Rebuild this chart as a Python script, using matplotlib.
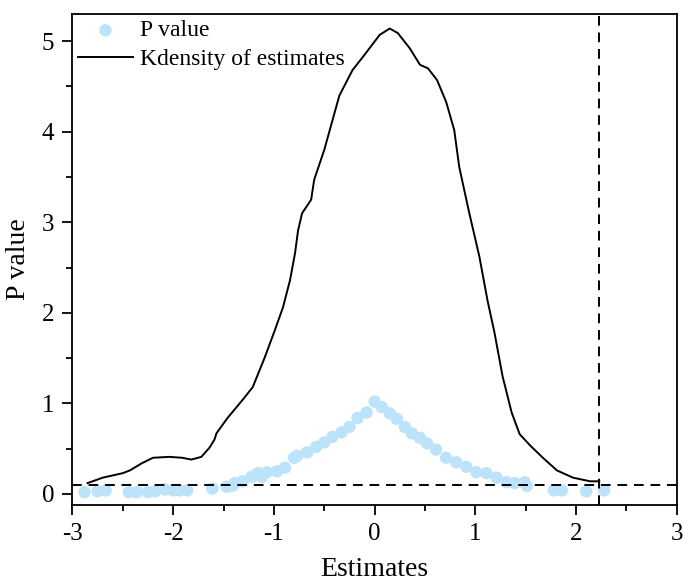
import matplotlib
matplotlib.use("Agg")
import matplotlib.pyplot as plt
from matplotlib.ticker import MultipleLocator

plt.rcParams['font.family'] = ['Liberation Serif', 'DejaVu Serif']
plt.rcParams['axes.unicode_minus'] = False

# kernel density of estimates
kd_x = [-2.85, -2.70, -2.50, -2.43, -2.31, -2.20, -2.04, -1.91, -1.82, -1.72,
        -1.64, -1.59, -1.57, -1.46, -1.31, -1.21, -1.09, -0.99, -0.91, -0.84,
        -0.79, -0.76, -0.72, -0.63, -0.60, -0.50, -0.35, -0.22, -0.10, 0.05,
        0.15, 0.23, 0.35, 0.45, 0.53, 0.62, 0.71, 0.79, 0.84, 0.94,
        1.04, 1.12, 1.19, 1.27, 1.36, 1.44, 1.54, 1.67, 1.81, 1.97,
        2.14, 2.23]
kd_y = [0.12, 0.18, 0.23, 0.26, 0.34, 0.40, 0.41, 0.40, 0.38, 0.41,
        0.51, 0.60, 0.67, 0.84, 1.04, 1.18, 1.51, 1.81, 2.06, 2.36,
        2.66, 2.91, 3.10, 3.25, 3.47, 3.80, 4.40, 4.68, 4.85, 5.07,
        5.14, 5.09, 4.92, 4.74, 4.70, 4.57, 4.33, 4.02, 3.61, 3.10,
        2.62, 2.14, 1.78, 1.30, 0.90, 0.66, 0.54, 0.40, 0.26, 0.18,
        0.14, 0.14]

# p values of placebo estimates
p_x = [-2.88, -2.75, -2.67, -2.44, -2.36, -2.25, -2.18, -2.08, -2.00, -1.94,
       -1.86, -1.61, -1.47, -1.41, -1.39, -1.31, -1.22, -1.16, -1.12, -1.07,
       -0.97, -0.89, -0.80, -0.77, -0.67, -0.58, -0.50, -0.42, -0.33, -0.25,
       -0.17, -0.08, 0.00, 0.07, 0.15, 0.22, 0.30, 0.37, 0.45, 0.52,
       0.61, 0.71, 0.81, 0.91, 1.01, 1.11, 1.21, 1.31, 1.39, 1.49,
       1.51, 1.78, 1.86, 2.10, 2.28]
p_y = [0.02, 0.03, 0.04, 0.02, 0.02, 0.02, 0.03, 0.05, 0.04, 0.04,
       0.04, 0.06, 0.08, 0.09, 0.12, 0.14, 0.19, 0.23, 0.19, 0.24,
       0.25, 0.29, 0.40, 0.42, 0.46, 0.52, 0.57, 0.63, 0.68, 0.74,
       0.84, 0.90, 1.02, 0.96, 0.89, 0.83, 0.74, 0.67, 0.62, 0.56,
       0.49, 0.40, 0.35, 0.30, 0.24, 0.23, 0.18, 0.13, 0.12, 0.13,
       0.09, 0.04, 0.04, 0.03, 0.04]

true_est = 2.23
p_cut = 0.1

fig = plt.figure(figsize=(6.83, 5.85), dpi=100)
ax = fig.add_axes([0.106, 0.137, 0.885, 0.839])

ax.scatter(p_x, p_y, s=80, color='#BCE3FA', edgecolors='none', label="P value", zorder=2)
ax.plot(kd_x, kd_y, color='k', lw=1.4, solid_joinstyle='round',
        label="Kdensity of estimates", zorder=3)

ax.axvline(true_est, color='k', linestyle=(0, (5, 3.5)), lw=1.4)
ax.axhline(p_cut, color='k', linestyle=(0, (5, 3.5)), lw=1.4)

ax.set_xlim(-3, 3)
ax.set_ylim(-0.12, 5.3)
ax.xaxis.set_major_locator(MultipleLocator(1))
ax.xaxis.set_minor_locator(MultipleLocator(0.5))
ax.yaxis.set_major_locator(MultipleLocator(1))
ax.yaxis.set_minor_locator(MultipleLocator(0.5))
ax.tick_params(which='major', direction='out', length=7, width=1.3, labelsize=18, pad=6)
ax.tick_params(which='minor', direction='out', length=4, width=1.3)
for s in ax.spines.values():
    s.set_linewidth(1.3)

ax.set_xlabel("Estimates", fontsize=20, labelpad=9)
ax.set_ylabel("P value", fontsize=20, labelpad=8)

ax.legend(loc="upper left", frameon=False, fontsize=17, borderaxespad=0.0,
          borderpad=0.25, handlelength=2.3, handletextpad=0.3, labelspacing=0.3,
          bbox_to_anchor=(0.0, 1.0))

fig.savefig("out.png", dpi=100)
